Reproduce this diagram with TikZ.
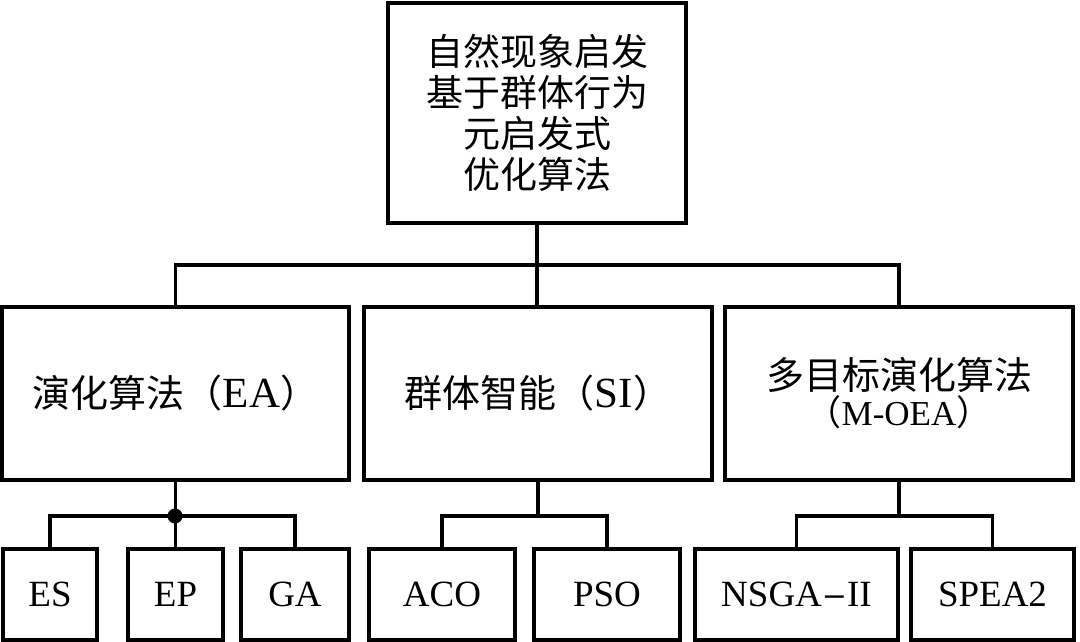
\documentclass[tikz,border=0pt]{standalone}
\usepackage{fontspec}
\setmainfont{Liberation Serif}
\newfontfamily\cjk{Noto Sans CJK SC}
\begin{document}
\begin{tikzpicture}[x=1pt,y=-1pt,
  box/.style={draw,line width=3.2pt,rectangle,inner sep=0pt,align=center},
  link/.style={line width=3.2pt},
  big/.style={font=\fontsize{38}{40}\selectfont},
  lat/.style={},
  leaf/.style={box,minimum height=91pt,font=\fontsize{37}{40}\selectfont}]
\useasboundingbox (0,0) rectangle (1080,641);
% top
\node[box,minimum width=298pt,minimum height=220pt,font=\fontsize{37}{41}\selectfont\cjk] (top) at (537,113)
  {自然现象启发\\基于群体行为\\元启发式\\优化算法};
% middle
\node[box,big,minimum width=347pt,minimum height=173pt] (EA) at (175.5,393.5)
  {{\cjk 演化算法（}{\fontsize{43}{40}\selectfont EA}{\cjk ）}};
\node[box,big,minimum width=348pt,minimum height=173pt] (SI) at (538,393.5)
  {{\cjk 群体智能（}{\fontsize{43}{40}\selectfont SI}{\cjk ）}};
\node[box,minimum width=348pt,minimum height=173pt,font=\fontsize{38}{36}\selectfont] (MOEA) at (899,393.5)
  {{\cjk 多目标演化算法}\\{\fontsize{35}{36}\selectfont{\cjk （}M-OEA{\cjk ）}}};
% bottom
\node[leaf,minimum width=94pt] (ES) at (50,594.5) {ES};
\node[leaf,minimum width=95pt] (EP) at (175.5,594.5) {EP};
\node[leaf,minimum width=108pt] (GA) at (295,594.5) {GA};
\node[leaf,minimum width=146pt] (ACO) at (442,594.5) {ACO};
\node[leaf,minimum width=146pt] (PSO) at (607,594.5) {PSO};
\node[leaf,minimum width=203pt] (NSGA) at (796.5,594.5) {NSGA{\fontspec{DejaVu Serif}\fontsize{30}{36}\selectfont −}II};
\node[leaf,minimum width=163pt] (SPEA) at (992.5,594.5) {SPEA2};
% bus coordinates
\coordinate (b1) at (537,265);
\coordinate (b2) at (175,516);
\coordinate (b3) at (537,516);
\coordinate (b4) at (899,516);
% connectors
\draw[link] (top.south) -- (top.south |- SI.north);
\draw[link] (EA.north) |- (b1) -| (MOEA.north);
\draw[link] (EA.south) -- (EP.north);
\draw[link] (ES.north) |- (b2) -| (GA.north);
\fill (b2) circle (7.5pt);
\draw[link] (SI.south) -- (SI.south |- b3);
\draw[link] (ACO.north) |- (b3) -| (PSO.north);
\draw[link] (MOEA.south) -- (b4);
\draw[link] (NSGA.north) |- (b4) -| (SPEA.north);
\end{tikzpicture}
\end{document}
